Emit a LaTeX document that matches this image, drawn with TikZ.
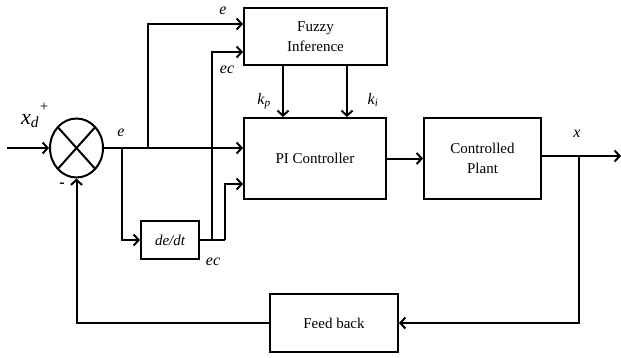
\documentclass[tikz,border=0pt]{standalone}
\usepackage{fontspec}
\setmainfont{Liberation Serif}
\usetikzlibrary{arrows.meta,shapes.geometric,calc}
\begin{document}
\begin{tikzpicture}[x=1pt,y=-1pt,
  wire/.style={line width=2pt},
  arr/.style={wire,-{Straight Barb[length=5pt,width=11pt,line width=2pt]}},
  blk/.style={draw,line width=2pt,inner sep=0pt,align=center,font=\fontsize{15}{20.5}\selectfont},
  lbl/.style={inner sep=0pt,font=\fontsize{16}{18}\selectfont\itshape}]
\useasboundingbox (0,0) rectangle (621,357);
% blocks
\node[blk,minimum width=143pt,minimum height=57pt] (fuzzy) at (315.5,36.5) {Fuzzy\\Inference};
\node[blk,minimum width=142pt,minimum height=81pt] (pi) at (315,158.5) {PI Controller};
\node[blk,minimum width=117pt,minimum height=81pt] (plant) at (482.5,158.5) {Controlled\\Plant};
\node[blk,minimum width=58pt,minimum height=38pt,font=\fontsize{15}{17}\selectfont\itshape] (dedt) at (170,240) {de/dt};
\node[blk,minimum width=128pt,minimum height=58pt] (fb) at (334,323) {Feed back};
\node[draw,ellipse,line width=2pt,minimum width=53pt,minimum height=59pt,inner sep=0pt] (sum) at (76.5,148) {};
\draw[wire] ($(sum.center)+(-18.7,-20.9)$) -- ($(sum.center)+(18.7,20.9)$);
\draw[wire] ($(sum.center)+(18.7,-20.9)$) -- ($(sum.center)+(-18.7,20.9)$);
% coordinates
\coordinate (in) at (7,148);
\coordinate (b1) at (122,148);
\coordinate (b2) at (148,148);
\coordinate (ecb) at (212,240);
\coordinate (dout) at (225,240);
\coordinate (xb) at (579,156);
\coordinate (out) at (621,156);
% connectors
\draw[arr] (in) -- (sum.west);
\draw[arr] (sum.east) -- (pi.west |- sum.east);
\draw[arr] (b1) -- (b1 |- dedt.west) -- (dedt.west);
\draw[arr] (b2) -- (b2 |- 0,24) -- (fuzzy.west |- 0,24);
\draw[wire] (dedt.east) -- (dout);
\draw[arr] (dout) -- (dout |- 0,184) -- (pi.west |- 0,184);
\draw[arr] (ecb) -- (ecb |- 0,52) -- (fuzzy.west |- 0,52);
\draw[arr] (fuzzy.south -| 283,0) -- (pi.north -| 283,0);
\draw[arr] (fuzzy.south -| 347,0) -- (pi.north -| 347,0);
\draw[arr] (pi.east) -- (plant.west);
\draw[arr] (plant.east |- xb) -- (out);
\draw[arr] (xb) -- (xb |- fb.east) -- (fb.east);
\draw[arr] (fb.west) -- (sum.south |- fb.west) -- (sum.south);
% labels
\node[lbl] (le1) at (223,11) {e};
\node[lbl] (lec1) at (227,70) {ec};
\node[lbl] (lkp) at (264,101) {k\textsubscript{p}};
\node[lbl] (lki) at (373,100) {k\textsubscript{i}};
\node[lbl] (le2) at (121,133) {e};
\node[lbl] (lec2) at (213,262) {ec};
\node[lbl] (lx) at (577,134) {x};
\node[inner sep=0pt,font=\fontsize{22}{24}\selectfont\itshape] (lxd) at (30,121) {x\textsubscript{d}};
\node[inner sep=0pt,font=\fontsize{15}{17}\selectfont] (lplus) at (44,107) {+};
\node[inner sep=0pt,font=\fontsize{16}{17}\selectfont\bfseries] (lminus) at (62,185) {-};
\end{tikzpicture}
\end{document}
